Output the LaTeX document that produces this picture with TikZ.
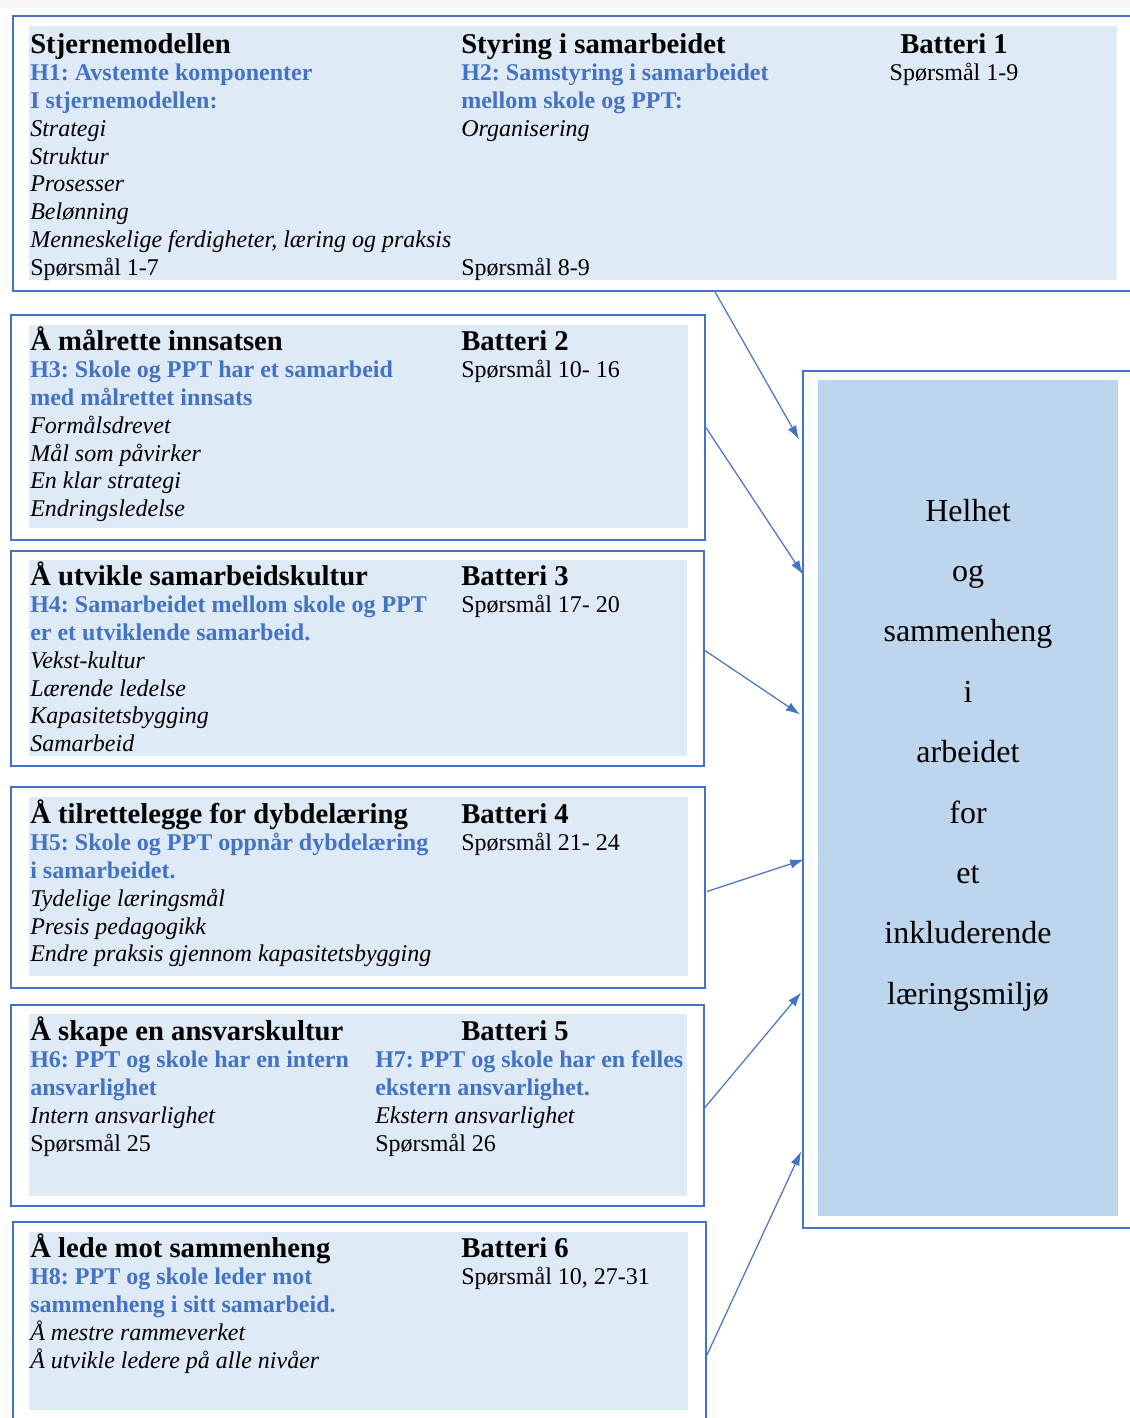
\documentclass[tikz,border=0pt]{standalone}
\usepackage{fontspec}
\setmainfont{Liberation Serif}
\usepackage{xcolor}
\usepackage{tikz}
\usetikzlibrary{positioning,arrows.meta,fit,calc}
\definecolor{wordblue}{RGB}{68,114,196}
\definecolor{panelblue}{RGB}{222,234,246}
\definecolor{hubblue}{RGB}{190,214,237}
\frenchspacing
\newcommand{\hd}[1]{{\fontsize{21.5}{20.8}\selectfont\bfseries\rule{0pt}{20pt}#1}}
\newcommand{\hyp}[1]{{\color{wordblue}\bfseries #1}}

\begin{document}
\begin{tikzpicture}[x=0.75pt, y=-0.75pt,
  frame/.style={draw=wordblue, line width=1.4pt, inner sep=0pt},
  txt/.style={anchor=north west, inner sep=0pt, align=left, font=\fontsize{18}{20.8}\selectfont},
  link/.style={-{Latex[length=10.5pt,width=7pt]}, draw=wordblue, line width=0.9pt}]
\clip (0,0) rectangle (1130,1418);
\fill[gray!6] (0,0) rectangle (1130,8);

% panels
\fill[panelblue] (29,26) rectangle (1117,280);
\fill[panelblue] (29,325) rectangle (688,528);
\fill[panelblue] (29,560) rectangle (687,756);
\fill[panelblue] (29,797) rectangle (688,976);
\fill[panelblue] (29,1014) rectangle (687,1196);
\fill[panelblue] (29,1232) rectangle (688,1410);
\fill[hubblue] (818,380) rectangle (1118,1216);

% frames
\node[frame, fit={(13,16) (1145,291)}] (stjerne) {};
\node[frame, fit={(11,315) (705,540)}] (malrette) {};
\node[frame, fit={(11,551) (704,766)}] (kultur) {};
\node[frame, fit={(11,787) (705,988)}] (dybde) {};
\node[frame, fit={(11,1005) (704,1206)}] (ansvar) {};
\node[frame, fit={(13,1222) (706,1430)}] (lede) {};
\node[frame, fit={(803,371) (1145,1228)}] (helhet) {};

% batteri 1
\node[txt] (t1a) at (30,26.3) {\hd{Stjernemodellen}\\
  \hyp{H1: Avstemte komponenter}\\
  \hyp{I stjernemodellen:}\\
  \textit{Strategi}\\
  \textit{Struktur}\\
  \textit{Prosesser}\\
  \textit{Belønning}\\
  \textit{Menneskelige ferdigheter, læring og praksis}\\
  Spørsmål 1-7};
\node[txt] (t1b) at (461,26.3) {\hd{Styring i samarbeidet}\\
  \hyp{H2: Samstyring i samarbeidet}\\
  \hyp{mellom skole og PPT:}\\
  \textit{Organisering}};
\node[txt, anchor=base west] (t1c) at (461,275) {Spørsmål 8-9};
\node[txt, anchor=north, align=center] (bat1) at (954,26.3) {\hd{Batteri 1}\\Spørsmål 1-9};

% batteri 2
\node[txt] (t2a) at (30,323.3) {\hd{Å målrette innsatsen}\\
  \hyp{H3: Skole og PPT har et samarbeid}\\
  \hyp{med målrettet innsats}\\
  \textit{Formålsdrevet}\\
  \textit{Mål som påvirker}\\
  \textit{En klar strategi}\\
  \textit{Endringsledelse}};
\node[txt] (bat2) at (461,323.3) {\hd{Batteri 2}\\Spørsmål 10- 16};

% batteri 3
\node[txt] (t3a) at (30,558.3) {\hd{Å utvikle samarbeidskultur}\\
  \hyp{H4: Samarbeidet mellom skole og PPT}\\
  \hyp{er et utviklende samarbeid.}\\
  \textit{Vekst-kultur}\\
  \textit{Lærende ledelse}\\
  \textit{Kapasitetsbygging}\\
  \textit{Samarbeid}};
\node[txt] (bat3) at (461,558.3) {\hd{Batteri 3}\\Spørsmål 17- 20};

% batteri 4
\node[txt] (t4a) at (30,796.3) {\hd{Å tilrettelegge for dybdelæring}\\
  \hyp{H5: Skole og PPT oppnår dybdelæring}\\
  \hyp{i samarbeidet.}\\
  \textit{Tydelige læringsmål}\\
  \textit{Presis pedagogikk}\\
  \textit{Endre praksis gjennom kapasitetsbygging}};
\node[txt] (bat4) at (461,796.3) {\hd{Batteri 4}\\Spørsmål 21- 24};

% batteri 5
\node[txt] (t5a) at (30,1013.3) {\hd{Å skape en ansvarskultur}\\
  \hyp{H6: PPT og skole har en intern}\\
  \hyp{ansvarlighet}\\
  \textit{Intern ansvarlighet}\\
  Spørsmål 25};
\node[txt] (bat5) at (461,1013.3) {\hd{Batteri 5}};
\node[txt] (t5b) at (375,1041) {\rule{0pt}{20pt}\hyp{H7: PPT og skole har en felles}\\
  \hyp{ekstern ansvarlighet.}\\
  \textit{Ekstern ansvarlighet}\\
  Spørsmål 26};

% batteri 6
\node[txt] (t6a) at (30,1230.3) {\hd{Å lede mot sammenheng}\\
  \hyp{H8: PPT og skole leder mot}\\
  \hyp{sammenheng i sitt samarbeid.}\\
  \textit{Å mestre rammeverket}\\
  \textit{Å utvikle ledere på alle nivåer}};
\node[txt] (bat6) at (461,1230.3) {\hd{Batteri 6}\\Spørsmål 10, 27-31};

% helhet
\node[align=center, inner sep=0pt, font=\fontsize{24}{45.3}\selectfont] (mal) at (968,755)
  {Helhet\\og\\sammenheng\\i\\arbeidet\\for\\et\\inkluderende\\læringsmiljø};

% piler
\draw[link] ($(stjerne.south west)+(703,0)$) -- ($(helhet.west)+(-3,-360)$);
\draw[link] (malrette.east) -- ($(helhet.west)+(1,-225)$);
\draw[link] ($(kultur.east)+(0,-8)$) -- ($(helhet.west)+(-2,-85)$);
\draw[link] ($(dybde.east)+(1,4)$) -- ($(helhet.west)+(2,60)$);
\draw[link] ($(ansvar.east)+(0,2)$) -- ($(helhet.west)+(-1,193)$);
\draw[link] ($(lede.east)+(0,29)$) -- ($(helhet.west)+(-1,352)$);
\end{tikzpicture}
\end{document}
